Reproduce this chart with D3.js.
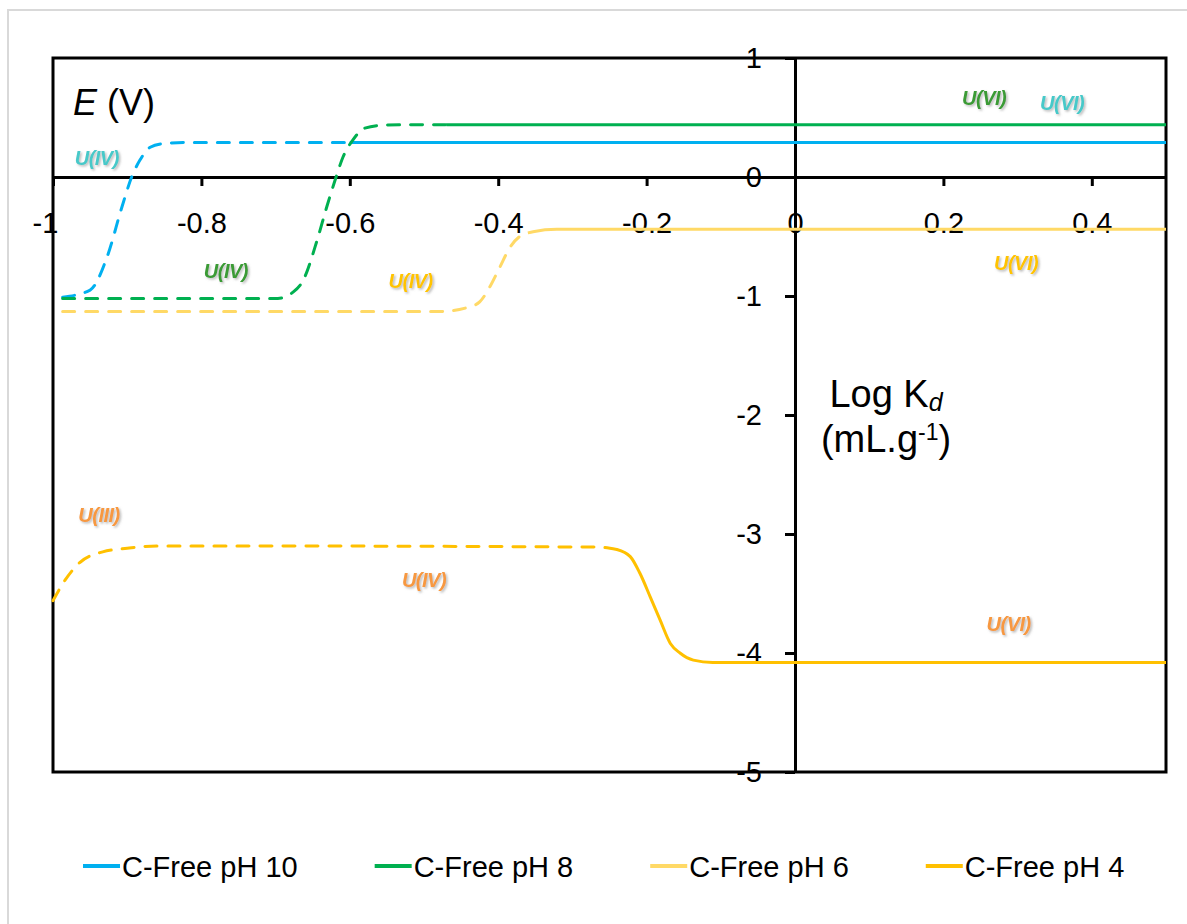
<!DOCTYPE html>
<html>
<head>
<meta charset="utf-8">
<script src="https://cdn.jsdelivr.net/npm/d3@7"></script>
<style>
  body { margin: 0; background: #fff; }
  text { font-family: "Liberation Sans", Arial, sans-serif; }
</style>
</head>
<body>
<div id="chart"></div>
<script>
// points: [Log Kd, E (V)]
const xTicks = [-1, -0.8, -0.6, -0.4, -0.2, 0, 0.2, 0.4];
const yTicks = [-5, -4, -3, -2, -1, 0, 1];
const seriesNames = ["C-Free pH 10", "C-Free pH 8", "C-Free pH 6", "C-Free pH 4"];
const seriesColors = ["#00B0F0", "#00B050", "#FFD966", "#FFC000"];

const ph10 = [[-0.987, -1.01], [-0.95, -0.95], [-0.927, -0.67], [-0.907, -0.25], [-0.894, 0.0],
  [-0.883, 0.14], [-0.869, 0.25], [-0.852, 0.28], [-0.82, 0.29], [-0.6, 0.29], [0.5, 0.29]];
const ph8 = [[-0.987, -1.02], [-0.697, -1.02], [-0.677, -0.97], [-0.663, -0.87], [-0.644, -0.53],
  [-0.631, -0.25], [-0.62, -0.03], [-0.609, 0.17], [-0.596, 0.31], [-0.58, 0.41], [-0.55, 0.437],
  [-0.47, 0.44], [0.5, 0.44]];
const ph6 = [[-0.987, -1.13], [-0.478, -1.13], [-0.438, -1.09], [-0.425, -1.05], [-0.411, -0.92],
  [-0.398, -0.76], [-0.384, -0.59], [-0.371, -0.5], [-0.36, -0.47], [-0.353, -0.46], [-0.321, -0.44],
  [0.5, -0.44]];
const ph4 = [[-1, -3.56], [-0.984, -3.39], [-0.964, -3.24], [-0.933, -3.15], [-0.9, -3.12],
  [-0.86, -3.1], [-0.815, -3.1], [-0.267, -3.11], [-0.24, -3.13], [-0.222, -3.19], [-0.209, -3.33],
  [-0.195, -3.53], [-0.182, -3.72], [-0.168, -3.92], [-0.155, -4.0], [-0.137, -4.06],
  [-0.111, -4.08], [0.5, -4.08]];
// dashed below this x, solid above
const solidFrom = [-0.6, -0.47, -0.36, -0.24];

// oxidation state labels: text, x, y, colour
const labelColors = ["#47C9C9", "#3A9B35", "#FFC400", "#F7983F"];
const stateLabels = [
  ["U(IV)", -0.941, 0.16, 0], ["U(VI)", 0.36, 0.62, 0],
  ["U(IV)", -0.767, -0.79, 1], ["U(VI)", 0.255, 0.66, 1],
  ["U(IV)", -0.518, -0.87, 2], ["U(VI)", 0.298, -0.72, 2],
  ["U(III)", -0.938, -2.84, 3], ["U(IV)", -0.5, -3.39, 3], ["U(VI)", 0.288, -3.76, 3]
];

const W = 1187, H = 924;
const margin = { top: 58, right: 21, bottom: 152, left: 53 };

const svg = d3.select("#chart").append("svg")
  .attr("width", W).attr("height", H);

const defs = svg.append("defs");
defs.append("filter").attr("id", "shadow")
  .attr("x", "-20%").attr("y", "-30%").attr("width", "140%").attr("height", "160%")
  .append("feDropShadow")
  .attr("dx", 1.5).attr("dy", 1.5).attr("stdDeviation", 0.8)
  .attr("flood-color", "#808080").attr("flood-opacity", 0.55);

// light frame round the whole chart
svg.append("rect")
  .attr("x", 8).attr("y", 10).attr("width", 1200).attr("height", 1000)
  .attr("fill", "none").attr("stroke", "#d9d9d9").attr("stroke-width", 2);

var x = d3.scaleLinear()
  .domain([-1, 0.5])
  .range([margin.left, W - margin.right]);
var y = d3.scaleLinear()
  .domain([-5, 1])
  .range([H - margin.bottom, margin.top]);

svg.append("rect")
  .attr("x", x(-1)).attr("y", y(1))
  .attr("width", x(0.5) - x(-1)).attr("height", y(-5) - y(1))
  .attr("fill", "none").attr("stroke", "#000").attr("stroke-width", 3);

const xAxis = svg.append("g")
  .attr("transform", "translate(0," + y(0) + ")")
  .call(d3.axisBottom(x).tickValues(xTicks).tickSize(9).tickSizeOuter(0).tickPadding(26)
    .tickFormat(d => String(d)));
const yAxis = svg.append("g")
  .attr("transform", "translate(" + x(0) + ",0)")
  .call(d3.axisLeft(y).tickValues(yTicks).tickSize(10).tickSizeOuter(0).tickPadding(23)
    .tickFormat(d => String(d)));

[xAxis, yAxis].forEach(g => {
  g.select(".domain").attr("stroke", "#000").attr("stroke-width", 3);
  g.selectAll(".tick line").attr("stroke", "#000").attr("stroke-width", 3);
  g.selectAll(".tick text")
    .attr("fill", "#000")
    .style("font-family", '"Liberation Sans", Arial, sans-serif')
    .style("font-size", "29px");
});
// the first x label sits a little left of its tick, as in the figure
xAxis.selectAll(".tick text").filter(d => d === -1).attr("dx", -8);

// curves
const line = d3.line()
  .x(d => x(d[0]))
  .y(d => y(d[1]))
  .curve(d3.curveMonotoneX);

[ph10, ph8, ph6, ph4].forEach((pts, i) => {
  const dashed = pts.filter(p => p[0] <= solidFrom[i]);
  const solid = pts.filter(p => p[0] >= solidFrom[i]);
  svg.append("path")
    .datum(dashed)
    .attr("fill", "none")
    .attr("stroke", seriesColors[i])
    .attr("stroke-width", 3)
    .attr("stroke-linecap", "round")
    .attr("stroke-dasharray", "12,11")
    .attr("d", line);
  svg.append("path")
    .datum(solid)
    .attr("fill", "none")
    .attr("stroke", seriesColors[i])
    .attr("stroke-width", 3)
    .attr("d", line);
});

svg.selectAll("text.state")
  .data(stateLabels)
  .enter().append("text")
  .attr("class", "state")
  .attr("x", d => x(d[1]))
  .attr("y", d => y(d[2]))
  .attr("text-anchor", "middle")
  .attr("dominant-baseline", "central")
  .attr("fill", d => labelColors[d[3]])
  .attr("filter", "url(#shadow)")
  .style("font-size", "20px")
  .style("font-weight", "bold")
  .style("font-style", "italic")
  .style("letter-spacing", "-0.5px")
  .text(d => d[0]);

// axis titles
const eTitle = svg.append("text")
  .attr("x", 73).attr("y", 115)
  .style("font-size", "36px");
eTitle.append("tspan").style("font-style", "italic").text("E");
eTitle.append("tspan").text(" (V)");

const kd1 = svg.append("text")
  .attr("x", 886).attr("y", 407)
  .attr("text-anchor", "middle")
  .style("font-size", "38px");
kd1.append("tspan").text("Log K");
kd1.append("tspan").attr("dy", 4).style("font-size", "25px").style("font-style", "italic").text("d");

const kd2 = svg.append("text")
  .attr("x", 886).attr("y", 452)
  .attr("text-anchor", "middle")
  .style("font-size", "38px");
kd2.append("tspan").text("(mL.g");
kd2.append("tspan").attr("dy", -12).style("font-size", "23px").text("-1");
kd2.append("tspan").attr("dy", 12).text(")");

// legend
let lx = 83;
seriesNames.forEach((name, i) => {
  const g = svg.append("g").attr("transform", "translate(" + lx + ",866)");
  g.append("line")
    .attr("x1", 0).attr("x2", 37)
    .attr("stroke", seriesColors[i]).attr("stroke-width", 4);
  const t = g.append("text")
    .attr("x", 39).attr("y", 11)
    .attr("fill", "#000")
    .style("font-size", "29px")
    .text(name);
  lx += 39 + t.node().getComputedTextLength() + 77;
});
</script>
</body>
</html>
